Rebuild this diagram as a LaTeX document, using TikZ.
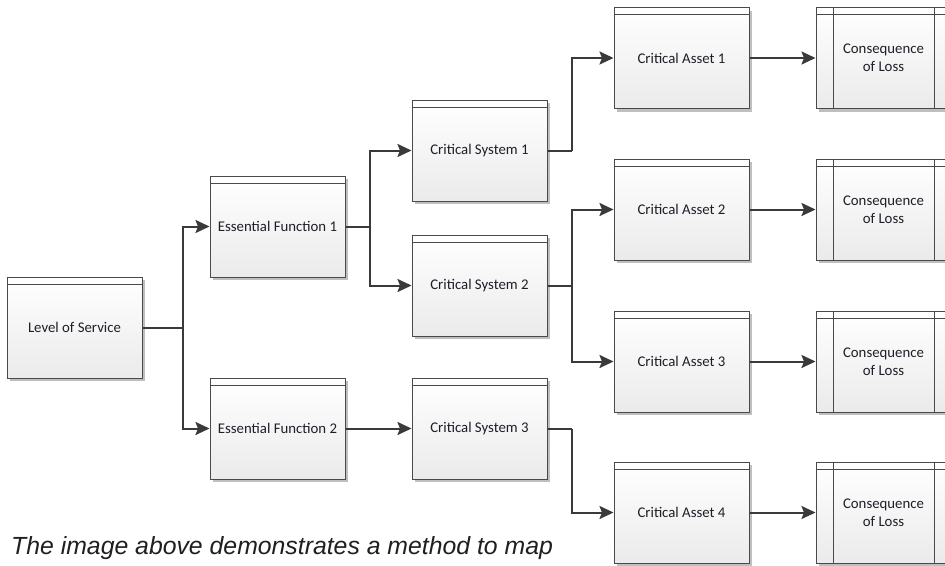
\documentclass[tikz,border=0pt]{standalone}
\usepackage{fontspec}
\setmainfont{Carlito}
\newfontfamily\capfont{Liberation Sans}
\usetikzlibrary{arrows.meta,shadows}
\definecolor{edgegray}{HTML}{4A4A4A}
\definecolor{linegray}{HTML}{3A3A3A}
\definecolor{txt}{HTML}{1E1E28}
\tikzset{
  blk/.style={rectangle, draw=edgegray, line width=1pt,
    minimum width=135pt, minimum height=101pt, inner sep=0pt,
    top color=white, bottom color=black!8,
    font=\fontsize{14.8}{18}\selectfont, text=txt, align=center,
    drop shadow={shadow xshift=3pt, shadow yshift=-3pt, fill=black!25, opacity=1},
    path picture={\draw[edgegray, line width=0.8pt]
      ([yshift=-7pt]path picture bounding box.north west) --
      ([yshift=-7pt]path picture bounding box.north east);}},
  conseq/.style={blk,
    path picture={\draw[edgegray, line width=0.8pt]
      ([yshift=-7pt]path picture bounding box.north west) --
      ([yshift=-7pt]path picture bounding box.north east);
      \draw[edgegray, line width=1pt]
      ([xshift=17pt]path picture bounding box.north west) --
      ([xshift=17pt]path picture bounding box.south west);
      \draw[edgegray, line width=1pt]
      ([xshift=-17pt]path picture bounding box.north east) --
      ([xshift=-17pt]path picture bounding box.south east);}},
  conn/.style={draw=linegray, line width=2pt,
    -{Stealth[length=14pt,width=13pt,inset=2.5pt]}},
  link/.style={draw=linegray, line width=2pt}
}
\begin{document}
\begin{tikzpicture}[x=1pt,y=-1pt]
\useasboundingbox (0,0) rectangle (945,565);
\clip (0,0) rectangle (945,565);
\fill[white] (0,0) rectangle (945,565);

% boxes
\node[blk] (los) at (74.5,327.5) {Level of Service};
\node[blk] (ef1) at (277.5,226.5) {Essential Function 1};
\node[blk] (ef2) at (277.5,428.5) {Essential Function 2};
\node[blk] (cs1) at (479.5,150.5) {Critical System 1};
\node[blk] (cs2) at (479.5,285.5) {Critical System 2};
\node[blk] (cs3) at (479.5,428.5) {Critical System 3};
\node[blk] (ca1) at (681.5,58) {Critical Asset 1};
\node[blk] (ca2) at (681.5,209.5) {Critical Asset 2};
\node[blk] (ca3) at (681.5,361.5) {Critical Asset 3};
\node[blk] (ca4) at (681.5,512.5) {Critical Asset 4};
\node[conseq] (cl1) at (883.5,58) {Consequence\\of Loss};
\node[conseq] (cl2) at (883.5,209.5) {Consequence\\of Loss};
\node[conseq] (cl3) at (883.5,361.5) {Consequence\\of Loss};
\node[conseq] (cl4) at (883.5,512.5) {Consequence\\of Loss};

% branch points
\coordinate (j1) at (183,327.5);
\coordinate (j2) at (370,226.5);
\coordinate (j3) at (572,150.5);
\coordinate (j4) at (572,285.5);
\coordinate (j5) at (572,428.5);

% connectors
\draw[link] (los.east) -- (j1);
\draw[conn] (j1) |- (ef1.west);
\draw[conn] (j1) |- (ef2.west);
\draw[link] (ef1.east) -- (j2);
\draw[conn] (j2) |- (cs1.west);
\draw[conn] (j2) |- (cs2.west);
\draw[conn] (ef2.east) -- (cs3.west);
\draw[link] (cs1.east) -- (j3);
\draw[conn] (j3) |- (ca1.west);
\draw[link] (cs2.east) -- (j4);
\draw[conn] (j4) |- (ca2.west);
\draw[conn] (j4) |- (ca3.west);
\draw[link] (cs3.east) -- (j5);
\draw[conn] (j5) |- (ca4.west);
\draw[conn] (ca1.east) -- (cl1.west);
\draw[conn] (ca2.east) -- (cl2.west);
\draw[conn] (ca3.east) -- (cl3.west);
\draw[conn] (ca4.east) -- (cl4.west);

% caption
\node[anchor=base west, inner sep=0pt, text=black!88,
  font=\capfont\itshape\fontsize{24.8}{29}\selectfont] (cap) at (11,554)
  {The image above demonstrates a method to map};
\end{tikzpicture}
\end{document}
